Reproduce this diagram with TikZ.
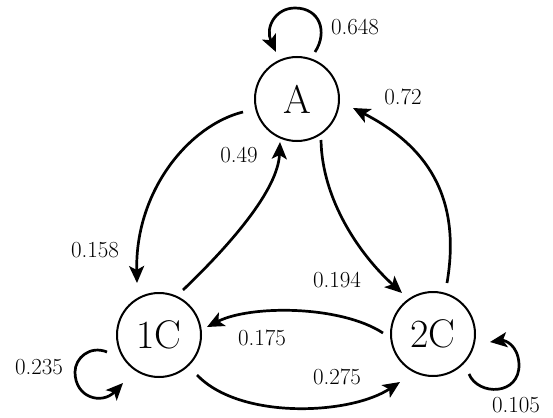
\documentclass[tikz,border=0pt]{standalone}
\usetikzlibrary{calc,arrows.meta}
\tikzset{
  statenode/.style={circle, draw, line width=2pt, minimum size=84pt, inner sep=0pt,
    font=\fontsize{40}{40}\selectfont},
  link/.style={line width=2.7pt, -{Stealth[length=17pt,width=15pt,inset=4pt]}},
  prob/.style={inner sep=0pt, font=\fontsize{23}{23}\selectfont},
}
\begin{document}
\begin{tikzpicture}[x=1pt,y=-1pt]
\useasboundingbox[fill=white] (0,0) rectangle (553,417);

% states
\node[statenode] (A)  at (297,99)  {A};
\node[statenode] (C1) at (159,335) {1C};
\node[statenode] (C2) at (433,334) {2C};

% transitions between states
\draw[link] ($(A)+(-54,13)$) .. controls (190,125) and (135,190) .. ($(C1)+(-22,-52)$);
\draw[link] ($(C1)+(24,-45)$) .. controls (230,245) and (278,190) .. ($(A)+(-17,43)$);
\draw[link] ($(A)+(24,41)$) .. controls (322,200) and (360,255) .. ($(C2)+(-31,-41)$);
\draw[link] ($(C2)+(14,-51)$) .. controls (462,195) and (425,145) .. ($(A)+(56,9)$);
\draw[link] ($(C2)+(-50,-1)$) .. controls (340,305) and (250,305) .. ($(C1)+(48,-8)$);
\draw[link] ($(C1)+(38,40)$) .. controls (240,420) and (350,415) .. ($(C2)+(-33,48)$);

% self loops
\draw[link] ($(A)+(18,-47)$) .. controls (328,32) and (320,8) .. (295,8)
  .. controls (275,8) and (265,28) .. ($(A)+(-21,-47)$);
\draw[link] ($(C1)+(-52,17)$) .. controls (90,345) and (75,358) .. (75,372)
  .. controls (75,398) and (102,405) .. ($(C1)+(-36,48)$);
\draw[link] ($(C2)+(36,40)$) .. controls (478,396) and (520,396) .. (519,364)
  .. controls (518,345) and (505,340) .. ($(C2)+(57,8)$);

% probabilities
\node[prob] (pAA)   at (355,27)  {0.648};
\node[prob] (pCA)   at (403,97)  {0.72};
\node[prob] (pBA)   at (239,155) {0.49};
\node[prob] (pAB)   at (95,250)  {0.158};
\node[prob] (pAC)   at (337,280) {0.194};
\node[prob] (pCB)   at (262,338) {0.175};
\node[prob] (pBC)   at (337,377) {0.275};
\node[prob] (pBB)   at (39,367)  {0.235};
\node[prob] (pCC)   at (516,405) {0.105};
\end{tikzpicture}
\end{document}
